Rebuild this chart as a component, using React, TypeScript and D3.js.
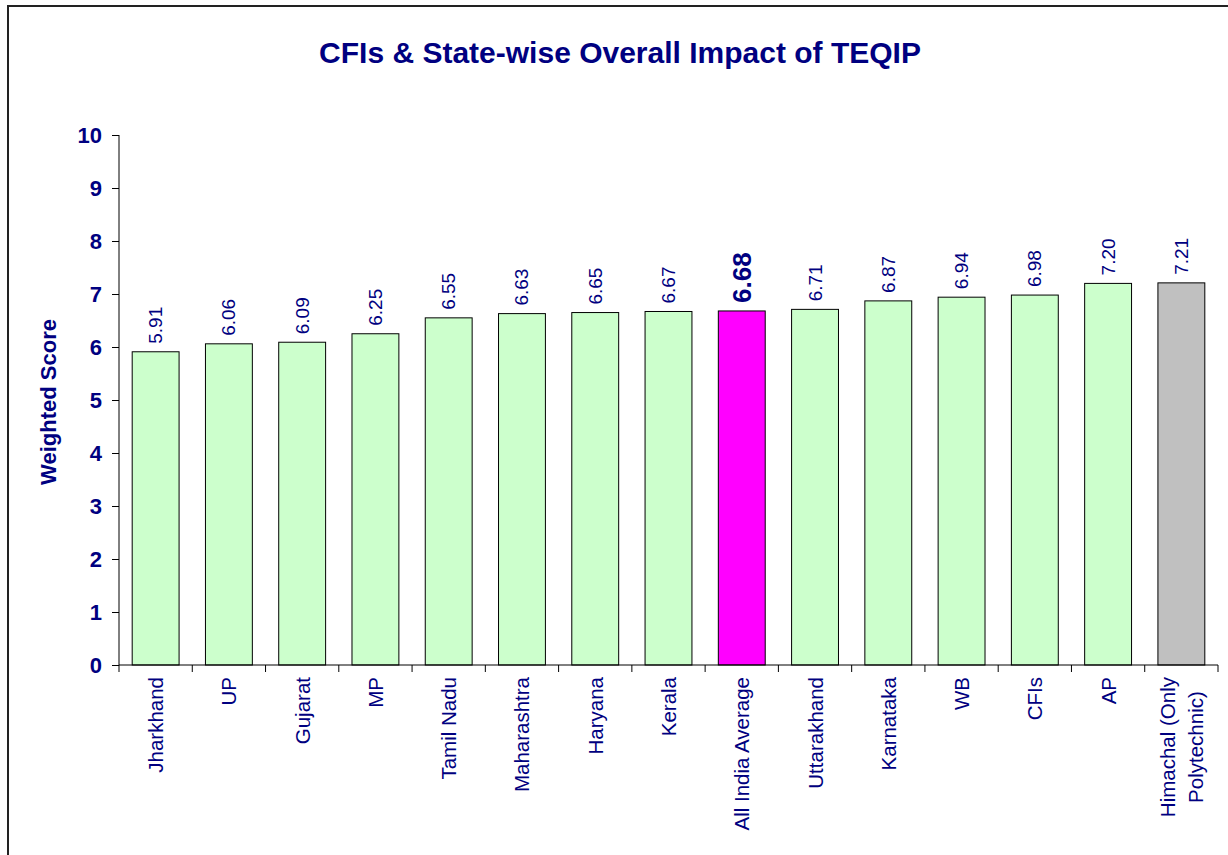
import React, { useEffect, useRef } from "react";
import * as d3 from "d3";

// chart values
const categories = [
  "Jharkhand",
  "UP",
  "Gujarat",
  "MP",
  "Tamil Nadu",
  "Maharashtra",
  "Haryana",
  "Kerala",
  "All India Average",
  "Uttarakhand",
  "Karnataka",
  "WB",
  "CFIs",
  "AP",
  "Himachal (Only\nPolytechnic)",
];
const scores = [5.91, 6.06, 6.09, 6.25, 6.55, 6.63, 6.65, 6.67, 6.68, 6.71, 6.87, 6.94, 6.98, 7.2, 7.21];
const yTicks = [0, 1, 2, 3, 4, 5, 6, 7, 8, 9, 10];
const highlight = "All India Average";
const greyed = "Himachal (Only\nPolytechnic)";

const W = 1228;
const H = 855;
const navy = "#000080";
const font = "Arial, 'Liberation Sans', sans-serif";

const App = () => {
  const svgRef = useRef<SVGSVGElement>(null);

  useEffect(() => {
    const svg = d3.select(svgRef.current);
    svg.selectAll("*").remove();

    const left = 119;
    const right = 1218;
    const top = 135;
    const bottom = 665;

    const data = categories.map((c, i) => ({ cat: c, v: scores[i] }));

    const x = d3
      .scaleBand()
      .domain(categories)
      .range([left, right])
      .paddingInner(0.36)
      .paddingOuter(0.18);
    const y = d3.scaleLinear().domain([0, 10]).range([bottom, top]);
    const step = x.step();

    // outer frame
    svg
      .append("rect")
      .attr("x", 8)
      .attr("y", 6)
      .attr("width", W + 20)
      .attr("height", H + 20)
      .attr("fill", "none")
      .attr("stroke", "#222")
      .attr("stroke-width", 2);

    // title
    svg
      .append("text")
      .attr("x", 620)
      .attr("y", 63)
      .attr("text-anchor", "middle")
      .attr("font-family", font)
      .attr("font-weight", "bold")
      .attr("font-size", 30)
      .attr("fill", navy)
      .text("CFIs & State-wise Overall Impact of TEQIP");

    // y axis
    const yAxis = d3
      .axisLeft(y)
      .tickValues(yTicks)
      .tickSize(7)
      .tickPadding(10)
      .tickFormat(d3.format("d"));
    const gy = svg.append("g").attr("transform", `translate(${left},0)`).call(yAxis);
    gy.select(".domain").attr("stroke", "#000").attr("d", `M0,${top}V${bottom}`);
    gy.selectAll(".tick line").attr("stroke", "#000");
    gy.selectAll(".tick text")
      .attr("font-family", font)
      .attr("font-weight", "bold")
      .attr("font-size", 22)
      .attr("fill", navy);

    svg
      .append("text")
      .attr("transform", `translate(56,${(top + bottom) / 2 + 2}) rotate(-90)`)
      .attr("text-anchor", "middle")
      .attr("font-family", font)
      .attr("font-weight", "bold")
      .attr("font-size", 22)
      .attr("fill", navy)
      .text("Weighted Score");

    // bars
    svg
      .selectAll(".bar")
      .data(data)
      .join("rect")
      .attr("class", "bar")
      .attr("x", (d) => x(d.cat)!)
      .attr("y", (d) => y(d.v))
      .attr("width", x.bandwidth())
      .attr("height", (d) => bottom - y(d.v))
      .attr("fill", (d) => (d.cat === highlight ? "#FF00FF" : d.cat === greyed ? "#C0C0C0" : "#CCFFCC"))
      .attr("stroke", "#000")
      .attr("stroke-width", 1);

    // x axis line and ticks at band edges
    svg
      .append("line")
      .attr("x1", left)
      .attr("x2", right)
      .attr("y1", bottom)
      .attr("y2", bottom)
      .attr("stroke", "#000");
    svg
      .selectAll(".xtick")
      .data(d3.range(categories.length + 1))
      .join("line")
      .attr("class", "xtick")
      .attr("x1", (i) => left + i * step)
      .attr("x2", (i) => left + i * step)
      .attr("y1", bottom)
      .attr("y2", bottom + 7)
      .attr("stroke", "#000");

    // value labels
    svg
      .selectAll(".val")
      .data(data)
      .join("text")
      .attr("class", "val")
      .attr(
        "transform",
        (d) => `translate(${x(d.cat)! + x.bandwidth() / 2},${y(d.v) - 8}) rotate(-90)`
      )
      .attr("dominant-baseline", "central")
      .attr("font-family", font)
      .attr("font-size", (d) => (d.cat === highlight ? 26 : 19))
      .attr("font-weight", (d) => (d.cat === highlight ? "bold" : "normal"))
      .attr("fill", navy)
      .text((d) => d.v.toFixed(2));

    // category labels, rotated, possibly multi-line
    const labelTop = bottom + 12;
    const lineGap = 28;
    data.forEach((d) => {
      const lines = d.cat.split("\n");
      const cx = x(d.cat)! + x.bandwidth() / 2;
      const g = svg.append("g");
      const texts = lines.map((ln) =>
        g
          .append("text")
          .attr("font-family", font)
          .attr("font-size", 20.5)
          .attr("fill", navy)
          .attr("dominant-baseline", "central")
          .attr("text-anchor", "middle")
          .text(ln)
      );
      const widths = texts.map((t) => (t.node() as SVGTextElement).getComputedTextLength());
      const maxW = d3.max(widths) ?? 0;
      texts.forEach((t, k) => {
        const off = (k - (lines.length - 1) / 2) * lineGap;
        t.attr("transform", `translate(${cx + off},${labelTop + maxW / 2}) rotate(-90)`);
      });
    });
  }, []);

  return (
    <svg
      ref={svgRef}
      width={W}
      height={H}
      style={{ position: "absolute", left: 0, top: 0, background: "#fff" }}
    />
  );
};

export default App;
